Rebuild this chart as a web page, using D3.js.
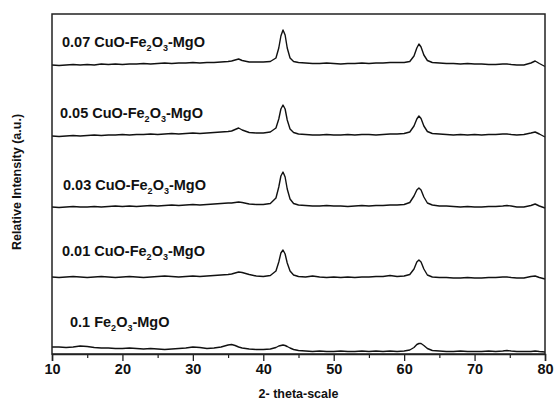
<!DOCTYPE html>
<html>
<head>
<meta charset="utf-8">
<script src="https://cdn.jsdelivr.net/npm/d3@7"></script>
<style>
  html, body { margin: 0; padding: 0; background: #fff; }
  svg { display: block; font-family: Arial, "Liberation Sans", sans-serif; }
</style>
</head>
<body>
<svg id="chart" width="554" height="400"></svg>
<script>
// ---- data ----
const twoTheta = [10,11,12,13,14,15,16,17,18,19,20,21,22,23,24,25,26,27,28,29,30,31,32,33,34,35,35.5,36,36.5,37,38,39,40,41,41.8,42.2,42.5,42.8,43.1,43.4,43.8,44.3,45,46,47,48,49,50,51,52,53,54,55,56,57,58,59,60,60.8,61.4,61.8,62.1,62.4,62.8,63.3,64,65,66,67,68,69,70,71,72,73,74,74.6,75.2,76,77,78,78.6,79.2,80];

const fe01 = [11,11,10.5,11,12,11.5,10.5,10,10,9.5,9.5,10,9.5,9,9.5,9,8.5,9,9.5,10,11,10.5,9.5,10,11,13,13.5,12.5,11,10,9,8.5,8.5,9,10.5,12,12.5,13,12.5,11.5,10,8.5,7.5,7,6.5,7,6.5,6.5,7,6.5,6.5,7,6.5,7,6.5,7,6.5,7,8,10.5,13.5,14.5,14.5,12.5,9.5,7.5,7,6.5,6.5,7,6.5,6.5,6.5,7,6.5,7,7.5,7,6.5,6.5,6.5,7,6.5,6];

const cu001 = [10,9.5,10,10.5,10,9.5,10,10.5,10,9.5,10,10.5,10,9.5,10,10.5,11,10.5,10,10.5,11,10.5,11,11.5,12,12.5,13,14,15,14.5,12.5,11,10.5,11.5,16,25,34,37,33,24,16,12,10.5,10,11,10,9.5,10,9.5,10,9.5,10,10,10.5,10.5,11.5,10.5,11,12.5,18,25,27,25,18,12,10,9.5,9.5,9,9,9.5,9,9,9.5,9.5,10,10,9.5,9,9,10.5,11,9.5,8];

const cu003 = [10,9.5,10,10.5,10,10,10.5,10,10.5,11,10.5,11,10.5,11,11.5,11,11.5,12,11.5,12,12.5,12,12.5,13,13.5,14,14,14.5,15,14.5,13,12.5,12.5,13.5,19,30,41,45,40,28,18,13.5,12,11.5,11,11,11.5,11,11,10.5,11,11.5,11,11.5,11.5,12,12,12.5,14.5,21,27,29,27,20,14,12,11,11,10.5,10,10.5,10,10,10.5,10.5,11,11.5,11,10,10,11.5,13,11,9];

const cu005 = [10,9.5,10,10.5,10,10.5,11,10.5,11,11,11.5,11,11.5,11.5,12,11.5,12,12.5,12,12.5,13,12.5,13,13.5,14,14.5,15,16.5,18,16,13.5,13,13,14,18,27,37,41,37,26,17,13.5,12,11.5,11,11,11.5,11,11,11.5,11,11.5,11.5,11,11.5,12,12,12.5,14,20,27,30,27.5,20,14.5,12.5,12,11.5,11,11.5,11,11.5,11,11.5,11.5,12,12,11.5,11,11.5,13,14,12,9];

const cu007 = [10,9.5,10,10.5,10,10.5,10,11,10.5,11,10.5,11,11,11.5,11,11.5,12,11.5,12,12,12.5,12,12.5,12.5,13,13.5,14,15,16,14.5,13,13,13,13.5,17,27,39,45,40,27,17,13.5,12.5,12,11.5,11.5,12,11.5,11,11.5,11.5,12,11.5,12,12,12.5,12.5,12.5,13.5,19,27,31,28,20,14.5,12.5,12,11.5,11.5,11,11.5,11,11,10.5,10.5,11,11,10.5,10,10,12,14,11.5,8.5];

const seriesNames = ["0.1 Fe2O3-MgO", "0.01 CuO-Fe2O3-MgO", "0.03 CuO-Fe2O3-MgO", "0.05 CuO-Fe2O3-MgO", "0.07 CuO-Fe2O3-MgO"];
const seriesValues = [fe01, cu001, cu003, cu005, cu007];
const seriesOffsets = [-4, 67, 137, 208, 279];
const xTicks = [10, 20, 30, 40, 50, 60, 70, 80];
const xMinorTicks = [15, 25, 35, 45, 55, 65, 75];
const xTitle = "2- theta-scale";
const yTitle = "Relative Intensity (a.u.)";

// ---- layout ----
const svg = d3.select("#chart");
const L = 52, R = 545, T = 14, B = 354;
const x = d3.scaleLinear().domain([10, 80]).range([L, R]);
const y = d3.scaleLinear().domain([0, 340]).range([B, T]);

// lines
const line = d3.line()
  .x((d, i) => x(twoTheta[i]))
  .y(d => d);

seriesValues.forEach((vals, k) => {
  const pts = vals.map(v => y(v + seriesOffsets[k]));
  svg.append("path")
    .attr("d", line(pts))
    .attr("fill", "none")
    .attr("stroke", "#111")
    .attr("stroke-width", 1.4)
    .attr("stroke-linejoin", "round");
});

// frame
svg.append("rect")
  .attr("x", L).attr("y", T)
  .attr("width", R - L).attr("height", B - T)
  .attr("fill", "none")
  .attr("stroke", "#222")
  .attr("stroke-width", 1.5);

// bottom axis
const xAxis = d3.axisBottom(x).tickValues(xTicks).tickSize(7).tickPadding(3).tickFormat(d3.format("d"));
const gx = svg.append("g").attr("transform", `translate(0,${B})`).call(xAxis);
gx.select(".domain").attr("stroke", "#222").attr("stroke-width", 1.5);
gx.selectAll(".tick line").attr("stroke", "#222").attr("stroke-width", 1.3);
gx.selectAll(".tick text")
  .attr("font-family", "Arial, 'Liberation Sans', sans-serif")
  .attr("font-size", 14.5).attr("font-weight", "bold").attr("fill", "#111");

const xMinor = d3.axisBottom(x).tickValues(xMinorTicks).tickSize(4).tickFormat("");
const gxm = svg.append("g").attr("transform", `translate(0,${B})`).call(xMinor);
gxm.select(".domain").remove();
gxm.selectAll(".tick line").attr("stroke", "#222").attr("stroke-width", 1.2);

// titles
svg.append("text")
  .attr("x", (L + R) / 2).attr("y", 398)
  .attr("text-anchor", "middle")
  .attr("font-size", 12.5).attr("font-weight", "bold").attr("fill", "#111")
  .text(xTitle);

svg.append("text")
  .attr("transform", "translate(21,182) rotate(-90)")
  .attr("text-anchor", "middle")
  .attr("font-size", 12.5).attr("font-weight", "bold").attr("fill", "#111")
  .text(yTitle);

// series labels with subscripts
const labelPos = [[70, 327], [62, 256], [63, 190], [60, 118], [62, 47]];
seriesNames.forEach((name, k) => {
  const t = svg.append("text")
    .attr("x", labelPos[k][0]).attr("y", labelPos[k][1])
    .attr("font-size", 14.5).attr("font-weight", "bold").attr("fill", "#111");
  const parts = name.split("Fe2O3");
  t.append("tspan").text(parts[0] + "Fe");
  t.append("tspan").attr("font-size", 9).attr("dy", 4).text("2");
  t.append("tspan").attr("dy", -4).text("O");
  t.append("tspan").attr("font-size", 9).attr("dy", 4).text("3");
  t.append("tspan").attr("dy", -4).text(parts[1]);
});
</script>
</body>
</html>
